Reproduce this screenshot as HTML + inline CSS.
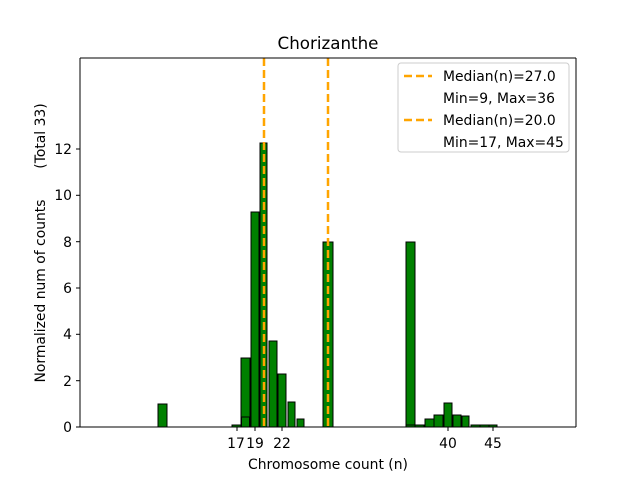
<!DOCTYPE html>
<html><head><meta charset="utf-8"><style>body{margin:0;background:#fff}svg{display:block}text{font-family:"DejaVu Sans","Liberation Sans",sans-serif;fill:#000}</style></head><body>
<svg width="640" height="480" viewBox="0 0 640 480" xmlns="http://www.w3.org/2000/svg">
<rect width="640" height="480" fill="#fff"/>
<g fill="#008000" stroke="#000" stroke-width="1">
<rect x="158" y="404" width="9" height="23"/>
<rect x="232" y="425" width="9" height="2"/>
<rect x="241" y="358" width="9" height="69"/>
<rect x="241.5" y="417" width="8" height="10"/>
<rect x="251" y="212" width="8" height="215"/>
<rect x="260" y="143" width="7" height="284"/>
<rect x="269" y="341" width="8" height="86"/>
<rect x="278" y="374" width="8" height="53"/>
<rect x="288" y="402" width="7" height="25"/>
<rect x="297" y="419" width="7" height="8"/>
<rect x="323" y="242" width="10" height="185"/>
<rect x="406" y="242" width="9" height="185"/>
<rect x="406" y="425" width="9" height="2"/>
<rect x="415" y="425" width="9" height="2"/>
<rect x="425" y="419" width="9" height="8"/>
<rect x="434" y="415" width="9" height="12"/>
<rect x="444" y="403" width="8" height="24"/>
<rect x="453" y="415" width="8" height="12"/>
<rect x="462" y="416" width="7" height="11"/>
<rect x="471" y="425" width="9" height="2"/>
<rect x="480" y="425" width="9" height="2"/>
<rect x="489" y="425" width="8" height="2"/>
</g>
<line x1="264" y1="58" x2="264" y2="427" stroke="#ffa500" stroke-width="2.5" stroke-dasharray="8,4"/>
<line x1="328" y1="58" x2="328" y2="427" stroke="#ffa500" stroke-width="2.5" stroke-dasharray="8,4"/>
<g stroke="#000" stroke-width="1" fill="none">
<line x1="80" y1="58" x2="80" y2="427"/>
<line x1="576" y1="58" x2="576" y2="427"/>
<line x1="80" y1="58" x2="576" y2="58"/>
<line x1="80" y1="427" x2="576" y2="427"/>
<line x1="76" y1="427" x2="80" y2="427"/><line x1="76" y1="380.7" x2="80" y2="380.7"/><line x1="76" y1="334.3" x2="80" y2="334.3"/><line x1="76" y1="288" x2="80" y2="288"/><line x1="76" y1="241.7" x2="80" y2="241.7"/><line x1="76" y1="195.3" x2="80" y2="195.3"/><line x1="76" y1="149" x2="80" y2="149"/>
<line x1="237" y1="427" x2="237" y2="431"/><line x1="255" y1="427" x2="255" y2="431"/><line x1="282" y1="427" x2="282" y2="431"/><line x1="448" y1="427" x2="448" y2="431"/><line x1="493" y1="427" x2="493" y2="431"/>
</g>
<g font-size="13.9" text-anchor="end">
<text x="72" y="432">0</text><text x="72" y="386">2</text><text x="72" y="339">4</text><text x="72" y="293">6</text><text x="72" y="247">8</text><text x="72" y="200">10</text><text x="72" y="154">12</text>
</g>
<g font-size="13.9" text-anchor="middle">
<text x="236" y="448">17</text><text x="255" y="448">19</text><text x="282" y="448">22</text><text x="448" y="448">40</text><text x="493" y="448">45</text>
<text x="328" y="469">Chromosome count (n)</text>
</g>
<text x="328" y="49" font-size="16.7" text-anchor="middle">Chorizanthe</text>
<text transform="translate(45,291) rotate(-90)" font-size="13.9" text-anchor="middle">Normalized num of counts</text>
<text transform="translate(45,136) rotate(-90)" font-size="13.9" text-anchor="middle">(Total 33)</text>
<rect x="398" y="63" width="171" height="89" fill="#fff" stroke="#ccc" rx="3"/>
<line x1="404" y1="76" x2="432" y2="76" stroke="#ffa500" stroke-width="2.5" stroke-dasharray="8,4"/>
<line x1="404" y1="120" x2="432" y2="120" stroke="#ffa500" stroke-width="2.5" stroke-dasharray="8,4"/>
<g font-size="13.9">
<text x="443" y="81">Median(n)=27.0</text>
<text x="443" y="103">Min=9, Max=36</text>
<text x="443" y="125">Median(n)=20.0</text>
<text x="443" y="147">Min=17, Max=45</text>
</g>
</svg>
</body></html>
